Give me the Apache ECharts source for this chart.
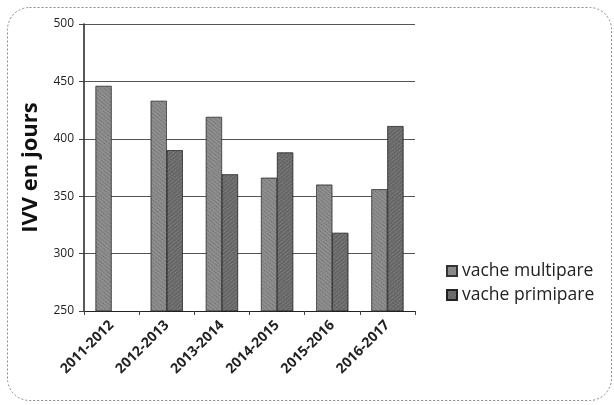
<!DOCTYPE html>
<html><head><meta charset="utf-8">
<script src="https://cdn.jsdelivr.net/npm/echarts@6/dist/echarts.min.js"></script>
<style>html,body{margin:0;padding:0;background:#fff}#c{width:614px;height:405px}</style>
</head><body><div id="c"></div>
<script>
const categories = ['2011-2012','2012-2013','2013-2014','2014-2015','2015-2016','2016-2017'];
const multipare = [446, 433, 419, 366, 360, 356];
const primipare = [null, 390, 369, 388, 318, 411];
const yTicks = [250, 300, 350, 400, 450, 500];

const chart = echarts.init(document.getElementById('c'));
const font = '"Open Sans", "Liberation Sans", sans-serif';
chart.setOption({
  animation: false,
  backgroundColor: '#fff',
  graphic: [{
    type: 'rect', left: 5, top: 5,
    shape: { width: 604, height: 393, r: 22 },
    style: { fill: 'none', stroke: '#888', lineWidth: 1, lineDash: [2, 2] }
  }],
  grid: { left: 84, right: 199, top: 24, bottom: 94 },
  legend: {
    orient: 'vertical', left: 441, top: 257, itemGap: 6,
    itemWidth: 10, itemHeight: 10, icon: 'rect',
    textStyle: { fontSize: 17.5, color: '#222', fontFamily: font },
    data: ['vache multipare', 'vache primipare']
  },
  xAxis: {
    type: 'category', data: categories,
    axisLine: { lineStyle: { color: '#222', width: 1 } },
    axisTick: { show: true, alignWithLabel: false, length: 4, lineStyle: { color: '#444' } },
    axisLabel: { rotate: 45, fontSize: 14, fontWeight: 'bold', color: '#222', fontFamily: font, margin: 12 }
  },
  yAxis: {
    type: 'value', min: yTicks[0], max: yTicks[yTicks.length - 1], interval: 50,
    name: 'IVV en jours', nameLocation: 'middle', nameGap: 42, nameRotate: 90,
    nameTextStyle: { fontSize: 22, fontWeight: 'bold', color: '#111', fontFamily: font },
    axisLine: { show: true, lineStyle: { color: '#222', width: 1.5 } },
    axisTick: { show: true, length: 5, lineStyle: { color: '#444' } },
    axisLabel: { fontSize: 12, color: '#222', fontFamily: font, margin: 10 },
    splitLine: { lineStyle: { color: '#555', width: 1 } }
  },
  series: [
    { name: 'vache multipare', type: 'bar', data: multipare, barWidth: 16, barGap: '0%',
      itemStyle: { color: '#8e8e8e', borderColor: '#333', borderWidth: 0.5,
        decal: { symbol: 'rect', symbolSize: 1, dashArrayX: [1, 1], dashArrayY: [1, 2], rotation: 0.7, color: 'rgba(40,40,40,0.35)' } } },
    { name: 'vache primipare', type: 'bar', data: primipare, barWidth: 16,
      itemStyle: { color: '#666666', borderColor: '#222', borderWidth: 0.5,
        decal: { symbol: 'rect', symbolSize: 1, dashArrayX: [1, 1], dashArrayY: [1, 2], rotation: -0.7, color: 'rgba(220,220,220,0.3)' } } }
  ]
});
</script></body></html>
